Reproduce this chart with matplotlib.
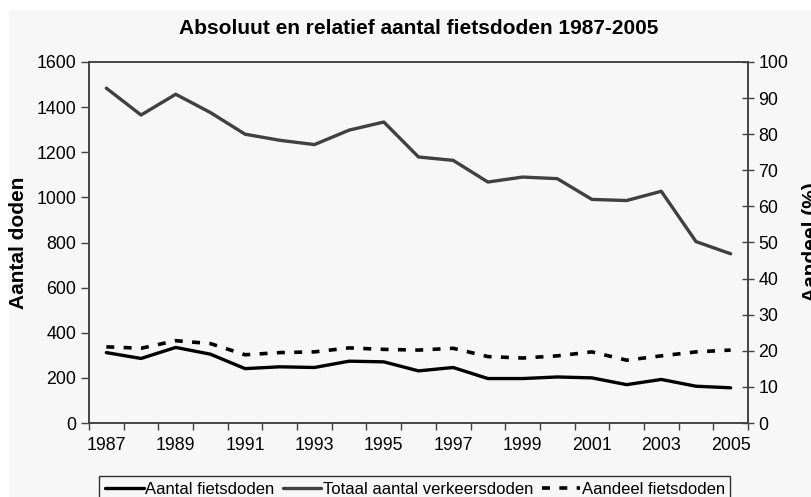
import matplotlib
matplotlib.use("Agg")
import matplotlib.pyplot as plt
from matplotlib.patches import Rectangle

plt.rcParams['font.family'] = ['Liberation Sans', 'DejaVu Sans']

# data
years = list(range(1987, 2006))
fietsdoden = [312, 286, 335, 305, 241, 249, 246, 274, 271, 231,
              246, 197, 197, 204, 200, 170, 193, 163, 156]
verkeersdoden = [1484, 1365, 1457, 1376, 1280, 1253, 1234, 1298, 1334, 1179,
                 1164, 1068, 1090, 1083, 991, 986, 1027, 804, 750]
aandeel = [21.1, 20.7, 22.8, 22.0, 18.9, 19.5, 19.7, 20.8, 20.4, 20.2,
           20.7, 18.4, 18.0, 18.6, 19.7, 17.4, 18.6, 19.7, 20.2]

bg = '#f7f7f7'
axc = '#404040'

fig = plt.figure(figsize=(8.12, 4.97), dpi=100)
fig.patch.set_facecolor('white')
fig.patches.append(Rectangle((9 / 812, 0), 1, 1 - 10 / 497, transform=fig.transFigure,
                             facecolor=bg, edgecolor='none', zorder=-10))

ax = fig.add_axes([89 / 812, 1 - 423 / 497, (748 - 89) / 812, (423 - 62) / 497])
ax.set_facecolor(bg)
ax2 = ax.twinx()

x = list(range(len(years)))
l1, = ax.plot(x, fietsdoden, color='black', lw=2.4, solid_capstyle='round')
l2, = ax.plot(x, verkeersdoden, color=axc, lw=2.4, solid_capstyle='round')
l3, = ax2.plot(x, aandeel, color='black', lw=2.6, dashes=(2.2, 2.6))

ax.set_xlim(-0.5, len(years) - 0.5)
ax.set_ylim(0, 1600)
ax2.set_ylim(0, 100)

# category boundaries as ticks, labels every other year
ax.set_xticks([i - 0.5 for i in range(len(years) + 1)])
ax.set_xticklabels([])
ax.set_xticks(x[::2], minor=True)
ax.set_xticklabels([str(y) for y in years[::2]], minor=True)
ax.tick_params(axis='x', which='major', direction='out', length=5, width=1, color=axc)
ax.tick_params(axis='x', which='minor', length=0, pad=10, labelsize=12.8)

ax.set_yticks(range(0, 1601, 200))
ax.tick_params(axis='y', direction='out', length=6, width=1, color=axc, labelsize=12.8, pad=3)
ax2.set_yticks(range(0, 101, 10))
ax2.tick_params(axis='y', direction='inout', length=9, width=1, color=axc, labelsize=12.8, pad=3)

for a in (ax, ax2):
    for s in a.spines.values():
        s.set_color(axc)
        s.set_linewidth(1.1)

ax.set_ylabel('Aantal doden', fontsize=15, fontweight='bold')
ax.yaxis.set_label_coords(-0.093, 0.5)
ax2.set_ylabel('Aandeel (%)', fontsize=15, fontweight='bold', rotation=90)
ax2.yaxis.set_label_coords(1.082, 0.5)

ax.set_title('Absoluut en relatief aantal fietsdoden 1987-2005',
             fontsize=15, fontweight='bold', pad=20)

leg = fig.legend([l1, l2, l3],
                 ['Aantal fietsdoden', 'Totaal aantal verkeersdoden', 'Aandeel fietsdoden'],
                 loc='lower center', bbox_to_anchor=(0.511, -0.012), ncol=3,
                 fontsize=12, frameon=True, fancybox=False, handlelength=2.3,
                 handletextpad=0.1, columnspacing=0.5, borderpad=0.35, borderaxespad=0)
leg.get_frame().set_edgecolor('black')
leg.get_frame().set_linewidth(1.0)
leg.get_frame().set_facecolor(bg)

fig.savefig('out.png', dpi=100, facecolor='white')
